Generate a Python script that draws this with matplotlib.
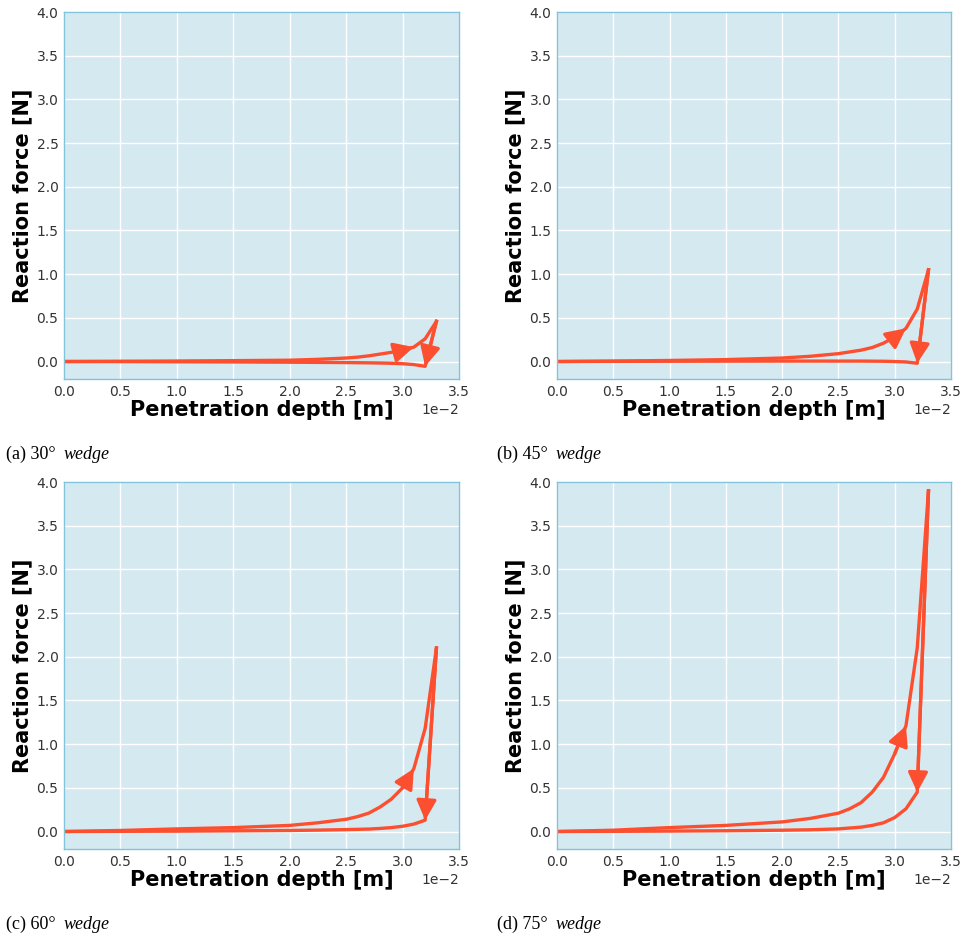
import matplotlib
matplotlib.use("Agg")
import matplotlib.pyplot as plt

# ---- data (penetration depth in m, reaction force in N) ----
x_load = [0.0, 0.005, 0.010, 0.015, 0.020, 0.0225, 0.025, 0.026, 0.027, 0.028,
          0.029, 0.030, 0.031, 0.032, 0.033]
x_unload = [0.033, 0.032, 0.031, 0.030, 0.029, 0.028, 0.027, 0.025, 0.0225,
            0.020, 0.015, 0.010, 0.005, 0.0]

load_30 = [0.0, 0.003, 0.006, 0.010, 0.015, 0.025, 0.040, 0.050, 0.065, 0.085,
           0.105, 0.13, 0.165, 0.26, 0.46]
unload_30 = [0.46, -0.055, -0.035, -0.025, -0.02, -0.017, -0.015, -0.012, -0.01,
             -0.008, -0.005, -0.003, -0.001, 0.0]

load_45 = [0.0, 0.005, 0.012, 0.022, 0.040, 0.060, 0.090, 0.11, 0.13, 0.16,
           0.21, 0.28, 0.38, 0.60, 1.05]
unload_45 = [1.05, -0.02, -0.005, 0.0, 0.003, 0.004, 0.005, 0.005, 0.005,
             0.005, 0.004, 0.003, 0.002, 0.0]

load_60 = [0.0, 0.012, 0.030, 0.045, 0.070, 0.10, 0.14, 0.17, 0.21, 0.28,
           0.37, 0.50, 0.72, 1.18, 2.10]
unload_60 = [2.10, 0.13, 0.085, 0.06, 0.045, 0.035, 0.028, 0.022, 0.016,
             0.012, 0.008, 0.004, 0.002, 0.0]

load_75 = [0.0, 0.015, 0.045, 0.070, 0.11, 0.15, 0.21, 0.26, 0.33, 0.45,
           0.62, 0.89, 1.21, 2.10, 3.90]
unload_75 = [3.90, 0.45, 0.26, 0.16, 0.10, 0.07, 0.05, 0.03, 0.02,
             0.015, 0.009, 0.005, 0.002, 0.0]

captions = ["(a) 30\u00b0 ", "(b) 45\u00b0 ", "(c) 60\u00b0 ", "(d) 75\u00b0 "]
caption_it = "wedge"

panels = [(load_30, unload_30), (load_45, unload_45),
          (load_60, unload_60), (load_75, unload_75)]

x_ticks = [0.0, 0.005, 0.010, 0.015, 0.020, 0.025, 0.030, 0.035]
y_ticks = [0.0, 0.5, 1.0, 1.5, 2.0, 2.5, 3.0, 3.5, 4.0]

# ---- style ----
LINE = "#fc4f30"
BG = "#d5e9f1"
SPINE = "#80c3da"
TXT = "#333333"

W, H = 970, 938
fig = plt.figure(figsize=(W / 100, H / 100), dpi=100)

# axes pixel boxes: left, top, right, bottom
boxes = [(64, 12, 459, 379), (557, 12, 951, 379),
         (64, 482, 459, 849), (557, 482, 951, 849)]
cap_pos = [(6, 454), (497, 454), (6, 924), (497, 924)]

for i, ((ld, ul), (l, t, r, b)) in enumerate(zip(panels, boxes)):
    ax = fig.add_axes([l / W, (H - b) / H, (r - l) / W, (b - t) / H])
    ax.set_facecolor(BG)
    ax.grid(True, color="white", lw=1.0)
    ax.set_axisbelow(True)
    for s in ax.spines.values():
        s.set_color(SPINE)
        s.set_linewidth(1.0)
    ax.tick_params(length=0, labelsize=10, colors=TXT, pad=4)
    ax.set_xlim(0, 0.035)
    ax.set_ylim(-0.2, 4.0)
    ax.set_xticks(x_ticks)
    ax.set_yticks(y_ticks)
    ax.ticklabel_format(axis="x", style="sci", scilimits=(-2, -2))
    ax.xaxis.get_offset_text().set_fontsize(10)
    ax.xaxis.get_offset_text().set_color(TXT)

    ax.plot(x_load, ld, color=LINE, lw=2.4)
    ax.plot(x_unload, ul, color=LINE, lw=2.4)
    # direction arrows
    ax.annotate("", xy=(x_load[12], ld[12]), xytext=(x_load[11], ld[11]),
                arrowprops=dict(arrowstyle="-|>", color=LINE, lw=2.4,
                                mutation_scale=30, shrinkA=0, shrinkB=0))
    ax.annotate("", xy=(x_unload[1], ul[1]), xytext=(x_unload[0], ul[0]),
                arrowprops=dict(arrowstyle="-|>", color=LINE, lw=2.4,
                                mutation_scale=30, shrinkA=0, shrinkB=0))

    ax.set_xlabel("Penetration depth [m]", fontsize=15, fontweight="bold",
                  labelpad=1)
    ax.set_ylabel("Reaction force [N]", fontsize=15, fontweight="bold",
                  labelpad=3)

    cx, cy = cap_pos[i]
    t1 = fig.text(cx / W, 1 - cy / H, captions[i], fontsize=13,
                  family="Liberation Serif", va="center", ha="left")
    fig.canvas.draw()
    bb = t1.get_window_extent()
    fig.text(bb.x1 / W + 3 / W, 1 - cy / H, caption_it, fontsize=13,
             family="Liberation Serif", style="italic", va="center", ha="left")

fig.savefig("out.png", dpi=100)
